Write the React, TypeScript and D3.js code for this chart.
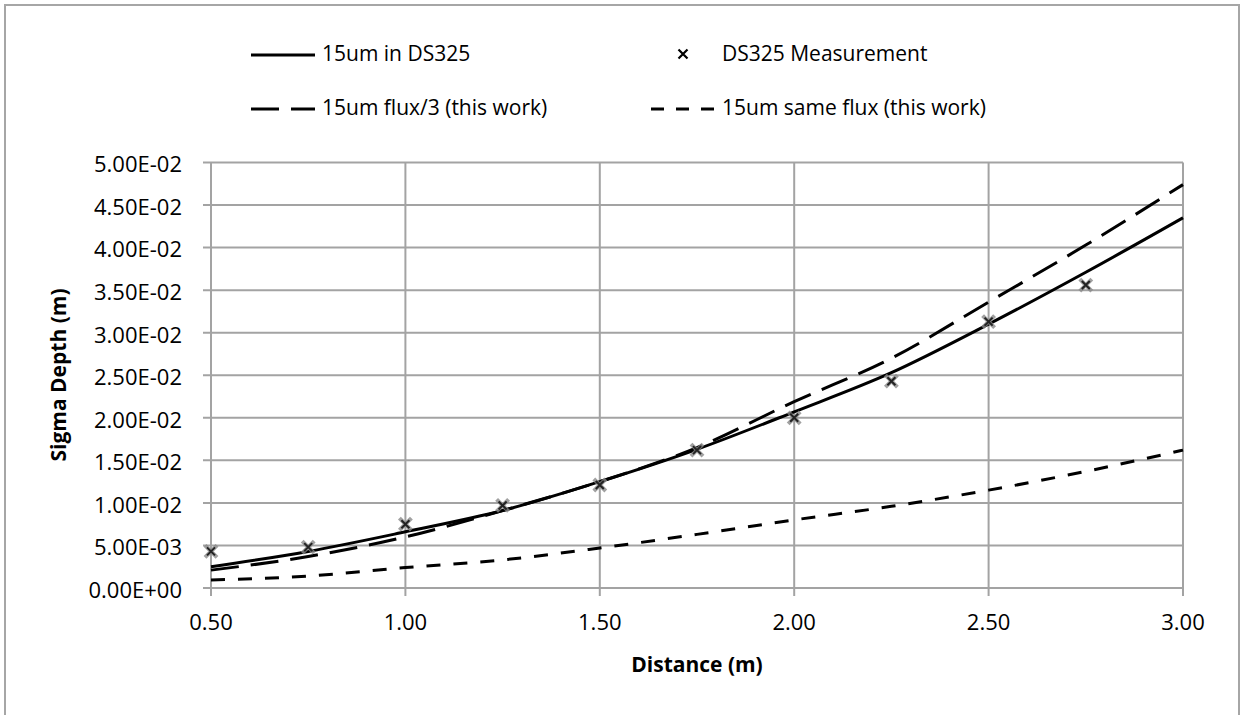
import * as d3 from 'd3';

const distances = [0.5, 0.75, 1.0, 1.25, 1.5, 1.75, 2.0, 2.25, 2.5, 2.75, 3.0];
const ds325Model = [0.0025, 0.0043, 0.0066, 0.0091, 0.0125, 0.0163, 0.0207, 0.0253, 0.031, 0.0371, 0.0435];
const fluxThird = [0.0021, 0.0037, 0.006, 0.0091, 0.0125, 0.0165, 0.0219, 0.027, 0.0336, 0.0403, 0.0474];
const sameFlux = [0.00094, 0.0014, 0.0024, 0.0033, 0.0047, 0.0063, 0.008, 0.0096, 0.0115, 0.0137, 0.0162];

const measDistances = [0.5, 0.75, 1.0, 1.25, 1.5, 1.75, 2.0, 2.25, 2.5, 2.75];
const measured = [0.0043, 0.0048, 0.0075, 0.0097, 0.0121, 0.0162, 0.02, 0.0243, 0.0313, 0.0356];

const xTicks = [0.5, 1.0, 1.5, 2.0, 2.5, 3.0];
const yTicks = d3.range(0, 11).map((i) => i * 0.005);

const FONT = '"Open Sans", sans-serif';
const GRID = '#a3a3a3';

const fmtY = (v: number) => {
  if (v === 0) return '0.00E+00';
  const e = Math.floor(Math.log10(v) + 1e-9);
  const m = v / Math.pow(10, e);
  return `${m.toFixed(2)}E-${String(-e).padStart(2, '0')}`;
};

export default function App() {
  const width = 1240;
  const height = 715;
  const plot = { left: 211, right: 1183, top: 162.5, bottom: 588 };

  const x = d3.scaleLinear().domain([0.5, 3.0]).range([plot.left, plot.right]);
  const y = d3.scaleLinear().domain([0, 0.05]).range([plot.bottom, plot.top]);

  const line = d3
    .line<[number, number]>()
    .x((d) => x(d[0]))
    .y((d) => y(d[1]))
    .curve(d3.curveMonotoneX);

  const zip = (vals: number[]) => distances.map((d, i) => [d, vals[i]] as [number, number]);

  const series = [
    { name: '15um in DS325', vals: ds325Model, dash: 'none' },
    { name: '15um flux/3 (this work)', vals: fluxThird, dash: '28,12' },
    { name: '15um same flux (this work)', vals: sameFlux, dash: '14,13' },
  ];

  // legend columns
  const col1 = 251;
  const col2 = 651;
  const symW = 64;

  return (
    <svg width={width} height={height} style={{ display: 'block' }}>
      <style>{`body{margin:0}`}</style>
      <rect x={0} y={0} width={width} height={height} fill="#fff" />
      <rect x={5} y={5} width={1234} height={720} fill="none" stroke="#a6a6a6" strokeWidth={2} />

      {/* grid */}
      {yTicks.map((t) => (
        <line key={'gy' + t} x1={plot.left - 8} x2={plot.right} y1={y(t)} y2={y(t)} stroke={GRID} strokeWidth={2} />
      ))}
      {xTicks.map((t) => (
        <line key={'gx' + t} x1={x(t)} x2={x(t)} y1={plot.top} y2={plot.bottom + 8} stroke={GRID} strokeWidth={2} />
      ))}

      {/* tick labels */}
      {yTicks.map((t) => (
        <text key={'ly' + t} x={182} y={y(t) + 4} textAnchor="end" dominantBaseline="middle" fontFamily={FONT} fontSize={22} fill="#000">
          {fmtY(t)}
        </text>
      ))}
      {xTicks.map((t) => (
        <text key={'lx' + t} x={x(t)} y={624} textAnchor="middle" dominantBaseline="middle" fontFamily={FONT} fontSize={22} fill="#000">
          {t.toFixed(2)}
        </text>
      ))}

      <text x={697} y={666} textAnchor="middle" dominantBaseline="middle" fontFamily={FONT} fontWeight="bold" fontSize={21} fill="#000">
        Distance (m)
      </text>
      <text
        transform={`translate(60,375) rotate(-90)`}
        textAnchor="middle"
        dominantBaseline="middle"
        fontFamily={FONT}
        fontWeight="bold"
        fontSize={21}
        fill="#000"
      >
        Sigma Depth (m)
      </text>

      {/* lines */}
      {series.map((s) => (
        <path key={s.name} d={line(zip(s.vals)) ?? ''} fill="none" stroke="#000" strokeWidth={3} strokeDasharray={s.dash} />
      ))}

      {/* measurements */}
      {measDistances.map((d, i) => (
        <g key={'m' + d} transform={`translate(${x(d)},${y(measured[i])})`}>
          <path d="M-6,-6L6,6M-6,6L6,-6" stroke="#8a8a8a" strokeWidth={4} strokeOpacity={0.8} />
          <path d="M-4,-4L4,4M-4,4L4,-4" stroke="#222" strokeWidth={2} />
        </g>
      ))}

      {/* legend */}
      <g fontFamily={FONT} fontSize={21} fill="#000">
        <line x1={col1} x2={col1 + symW} y1={55} y2={55} stroke="#000" strokeWidth={3} />
        <text x={col1 + symW + 7} y={55} dominantBaseline="middle">{series[0].name}</text>

        <path
          d="M-4.5,-4.5L4.5,4.5M-4.5,4.5L4.5,-4.5"
          transform={`translate(${col2 + symW / 2},54)`}
          stroke="#000"
          strokeWidth={2.2}
        />
        <text x={col2 + symW + 7} y={55} dominantBaseline="middle">DS325 Measurement</text>

        <line x1={col1} x2={col1 + symW} y1={109} y2={109} stroke="#000" strokeWidth={3} strokeDasharray="28,12" />
        <text x={col1 + symW + 7} y={109} dominantBaseline="middle">{series[1].name}</text>

        <line x1={col2} x2={col2 + symW} y1={109} y2={109} stroke="#000" strokeWidth={3} strokeDasharray="13,12" />
        <text x={col2 + symW + 7} y={109} dominantBaseline="middle">{series[2].name}</text>
      </g>
    </svg>
  );
}
